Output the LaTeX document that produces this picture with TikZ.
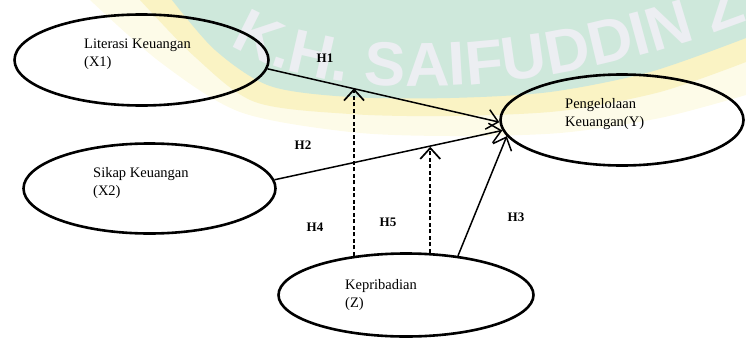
\documentclass[tikz,border=0pt]{standalone}
\usepackage{fontspec}
\setmainfont{Liberation Serif}
\newfontfamily\wmfont{Liberation Sans}
\usetikzlibrary{shapes.geometric,arrows.meta,calc,decorations.text}

\definecolor{wmteal}{RGB}{206,232,219}
\definecolor{wmyellow}{RGB}{250,243,196}
\definecolor{wmcream}{RGB}{253,251,232}
\definecolor{wmletter}{RGB}{236,238,242}
\newcommand\wmstyle{\wmfont\bfseries\fontsize{62}{62}\selectfont\color{wmletter}}

\tikzset{
  varnode/.style={ellipse, draw, line width=2.6pt, inner sep=0pt},
  vartext/.style={font=\fontsize{14.5}{18}\selectfont, align=left, inner sep=0pt, anchor=west},
  hyp/.style={font=\bfseries\fontsize{13}{15}\selectfont, inner sep=0pt},
  effect/.style={line width=1.5pt, -{Straight Barb[length=11pt,width=20pt]}},
  modline/.style={effect, line width=1.7pt, dash pattern=on 4pt off 2.5pt}
}

\begin{document}
\begin{tikzpicture}[x=1pt,y=1pt]
\useasboundingbox (0,0) rectangle (746,-340);
\begin{scope}
  \clip (0,0) rectangle (746,-340);
  \fill[wmcream] plot[smooth] coordinates {(90,0) (160,-62) (240,-112) (350,-132) (450,-136) (560,-133) (660,-118) (746,-95)} -- (746,0) -- cycle;
  \fill[wmyellow] plot[smooth] coordinates {(140,0) (195,-57) (255,-102) (350,-114) (450,-116) (560,-111) (660,-92) (746,-62)} -- (746,0) -- cycle;
  \fill[wmteal] plot[smooth] coordinates {(172,0) (215,-50) (270,-86) (350,-97) (450,-98) (550,-92) (650,-72) (746,-38)} -- (746,0) -- cycle;
  \path[decorate,decoration={text along path,text={|\wmstyle|K.H. SAIFUDDIN Z}}]
    (230,-44) .. controls (325,-110) and (575,-104) .. (815,8);
\end{scope}

\node[varnode, minimum width=254pt, minimum height=91pt] (x1) at (141.5,-60) {};
\node[varnode, minimum width=252pt, minimum height=90pt] (x2) at (149.5,-188.5) {};
\node[varnode, minimum width=243pt, minimum height=91pt] (y) at (622,-120) {};
\node[varnode, minimum width=255pt, minimum height=83pt] (z) at (406,-295) {};

\node[vartext] (x1t) at (84,-54) {Literasi Keuangan\\(X1)};
\node[vartext] (x2t) at (93,-183) {Sikap Keuangan\\(X2)};
\node[vartext] (yt) at (565,-114) {Pengelolaan\\Keuangan(Y)};
\node[vartext] (zt) at (345,-295) {Kepribadian\\(Z)};

\node[hyp] (h1) at (325,-58) {H1};
\node[hyp] (h2) at (303,-145) {H2};
\node[hyp] (h3) at (516,-217) {H3};
\node[hyp] (h4) at (315,-227) {H4};
\node[hyp] (h5) at (388,-222) {H5};

\draw[effect] (x1.-4) -- (y.181);
\draw[effect] (x2.4) -- (y.185);
\draw[effect] (z.37) -- (y.188);

\coordinate (m1) at ($(x1.-4)!0.365!(y.181)$);
\coordinate (m2) at ($(x2.4)!0.67!(y.185)$);
\draw[modline] (z.143) -- (z.143 |- m1);
\draw[modline] (z.60) -- (z.60 |- m2);
\end{tikzpicture}
\end{document}
